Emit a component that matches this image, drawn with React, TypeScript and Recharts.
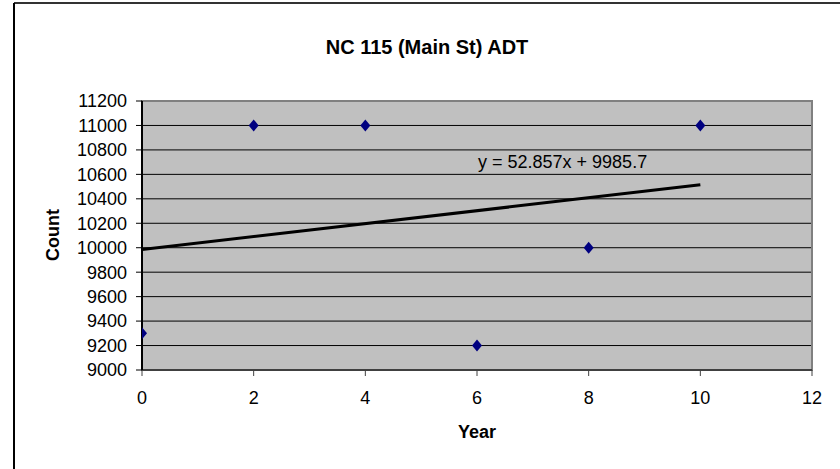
import React from "react";
import {
  ComposedChart,
  CartesianGrid,
  XAxis,
  YAxis,
  Scatter,
  Line,
  ReferenceArea,
} from "recharts";

const YEARS = [0, 2, 4, 6, 8, 10];
const COUNTS = [9300, 11000, 11000, 9200, 10000, 11000];

// linear trendline end points (Excel fit, y = 52.857x + 9985.7)
const TREND_X = [0, 10];
const TREND_Y = [9985.7, 10514.3];

const X_TICKS = [0, 2, 4, 6, 8, 10, 12];
const Y_TICKS = [9000, 9200, 9400, 9600, 9800, 10000, 10200, 10400, 10600, 10800, 11000, 11200];

const FONT = "'Liberation Sans', Arial, sans-serif";

const points = YEARS.map((x, i) => ({ x, y: COUNTS[i] }));
const trend = TREND_X.map((x, i) => ({ x, y: TREND_Y[i] }));

function Diamond(props: any) {
  const { cx, cy } = props;
  if (cx == null || cy == null) return null;
  const w = 5;
  const h = 6;
  return (
    <polygon
      points={`${cx},${cy - h} ${cx + w},${cy} ${cx},${cy + h} ${cx - w},${cy}`}
      fill="#000080"
    />
  );
}

export default function App() {
  return (
    <div style={{ position: "absolute", left: 0, top: 0, width: 840, height: 469, background: "#fff" }}>
      <ComposedChart
        width={840}
        height={469}
        margin={{ top: 101, right: 28, bottom: 0, left: 0 }}
        style={{ fontFamily: FONT }}
      >
        <CartesianGrid vertical={false} stroke="#000" strokeOpacity={1} fill="#C0C0C0" fillOpacity={1} />
        <XAxis
          type="number"
          dataKey="x"
          domain={[0, 12]}
          ticks={X_TICKS}
          interval={0}
          height={99}
          tickSize={6}
          tickMargin={15}
          axisLine={{ stroke: "#404040", strokeWidth: 2 }}
          tickLine={{ stroke: "#404040" }}
          tick={{ fill: "#000", fontSize: 18 }}
          allowDataOverflow
        />
        <YAxis
          type="number"
          dataKey="y"
          domain={[9000, 11200]}
          ticks={Y_TICKS}
          interval={0}
          width={142}
          tickSize={6}
          tickMargin={9}
          axisLine={{ stroke: "#000", strokeWidth: 2 }}
          tickLine={{ stroke: "#000" }}
          tick={{ fill: "#000", fontSize: 18 }}
          allowDataOverflow
        />
        <ReferenceArea
          x1={0}
          x2={12}
          y1={9000}
          y2={11200}
          fill="none"
          stroke="#808080"
          strokeWidth={2}
          ifOverflow="visible"
        />
        <Line
          data={trend}
          dataKey="y"
          type="linear"
          stroke="#000"
          strokeWidth={3}
          dot={false}
          activeDot={false}
          isAnimationActive={false}
        />
        <Scatter data={points} dataKey="y" shape={<Diamond />} isAnimationActive={false} />
      </ComposedChart>
      <svg
        width={840}
        height={469}
        style={{ position: "absolute", left: 0, top: 0, pointerEvents: "none", fontFamily: FONT }}
      >
        <line x1={14} y1={3} x2={840} y2={3} stroke="#333" strokeWidth={2} />
        <line x1={14} y1={3} x2={14} y2={469} stroke="#000" strokeWidth={2} />
        <text x={427} y={54} textAnchor="middle" fontSize={20} fontWeight="bold" fill="#000">
          NC 115 (Main St) ADT
        </text>
        <text
          x={59}
          y={235}
          textAnchor="middle"
          fontSize={18}
          fontWeight="bold"
          fill="#000"
          transform="rotate(-90 59 235)"
        >
          Count
        </text>
        <text x={477} y={438} textAnchor="middle" fontSize={18} fontWeight="bold" fill="#000">
          Year
        </text>
        <text x={478} y={168} fontSize={18} fill="#000">
          y = 52.857x + 9985.7
        </text>
      </svg>
    </div>
  );
}
